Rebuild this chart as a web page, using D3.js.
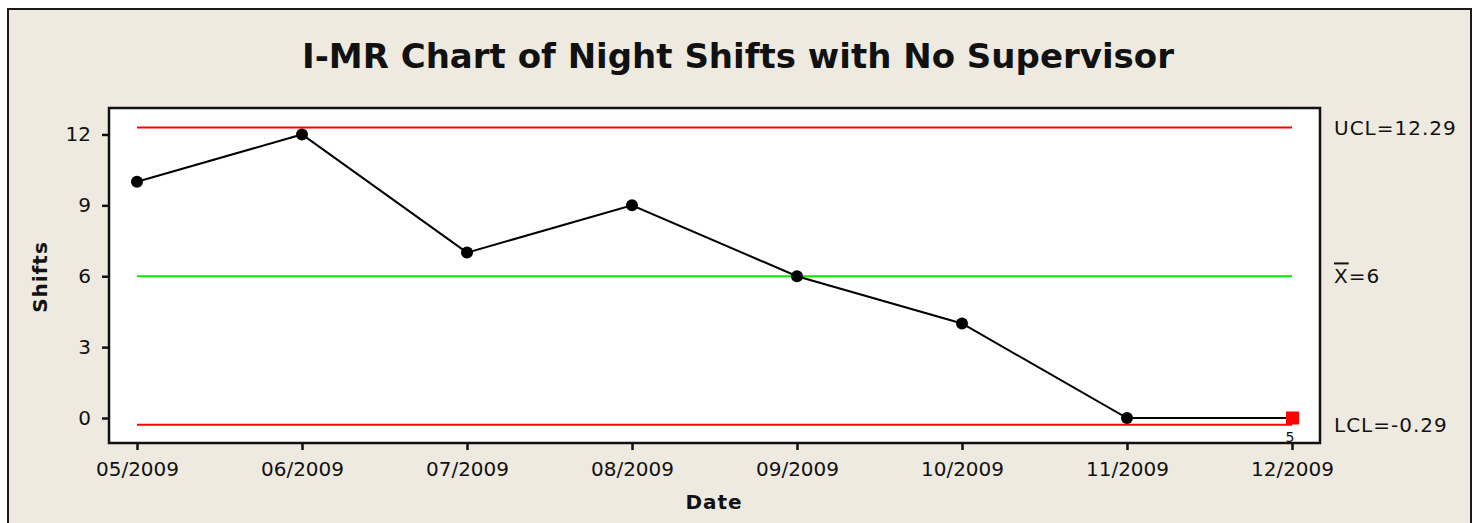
<!DOCTYPE html>
<html>
<head>
<meta charset="utf-8">
<script src="https://cdn.jsdelivr.net/npm/d3@7"></script>
<style>
  body { margin: 0; background: #fff; }
  svg { display: block; font-family: "DejaVu Sans", sans-serif; }
</style>
</head>
<body>
<div id="chart"></div>
<script>
// data
const dates = ["05/2009", "06/2009", "07/2009", "08/2009", "09/2009", "10/2009", "11/2009", "12/2009"];
const shifts = [10, 12, 7, 9, 6, 4, 0, 0];
const flagged = [false, false, false, false, false, false, false, true];
const flagLabels = ["", "", "", "", "", "", "", "5"];
const yTicks = [0, 3, 6, 9, 12];
const ucl = 12.29, mean = 6, lcl = -0.29;
const limitLabels = ["UCL=12.29", "=6", "LCL=-0.29"];

const width = 1476, height = 523;
const plot = { left: 109, top: 108, right: 1320, bottom: 443 };

const svg = d3.select("#chart").append("svg")
    .attr("width", width)
    .attr("height", height);

// panneau de fond
svg.append("rect")
    .attr("x", 8).attr("y", 9)
    .attr("width", 1463).attr("height", 530)
    .attr("fill", "#eeeae0")
    .attr("stroke", "#1a1a1a")
    .attr("stroke-width", 2);

svg.append("text")
    .attr("x", 738).attr("y", 68)
    .attr("text-anchor", "middle")
    .attr("font-weight", "bold")
    .attr("font-size", 34)
    .attr("fill", "#111")
    .text("I-MR Chart of Night Shifts with No Supervisor");

const x = d3.scalePoint()
    .domain(dates)
    .range([plot.left + 28, plot.right - 28]);

const y = d3.scaleLinear()
    .domain([-1.058, 13.12])
    .range([plot.bottom, plot.top]);

svg.append("rect")
    .attr("x", plot.left).attr("y", plot.top)
    .attr("width", plot.right - plot.left)
    .attr("height", plot.bottom - plot.top)
    .attr("fill", "#fff")
    .attr("stroke", "#111")
    .attr("stroke-width", 2.5);

// axes
const yAxis = svg.append("g")
    .attr("transform", `translate(${plot.left},0)`)
    .call(d3.axisLeft(y).tickValues(yTicks).tickSize(7).tickPadding(11));
const xAxis = svg.append("g")
    .attr("transform", `translate(0,${plot.bottom})`)
    .call(d3.axisBottom(x).tickSize(7).tickPadding(12));

[yAxis, xAxis].forEach((g) => {
    g.select(".domain").remove();
    g.selectAll(".tick line").attr("stroke", "#111").attr("stroke-width", 2.5);
    g.selectAll(".tick text")
        .attr("fill", "#111")
        .attr("font-size", 20)
        .attr("font-family", "DejaVu Sans, sans-serif");
});

svg.append("text")
    .attr("transform", "translate(47,277) rotate(-90)")
    .attr("text-anchor", "middle")
    .attr("font-weight", "bold")
    .attr("font-size", 20)
    .attr("letter-spacing", 1)
    .attr("fill", "#111")
    .text("Shifts");

svg.append("text")
    .attr("x", 714).attr("y", 509)
    .attr("text-anchor", "middle")
    .attr("font-weight", "bold")
    .attr("font-size", 20)
    .attr("letter-spacing", 1)
    .attr("fill", "#111")
    .text("Date");

// limites de contrôle
const x0 = x(dates[0]), x1 = x(dates[dates.length - 1]);
const limits = [
    { v: ucl, color: "#ff0000" },
    { v: mean, color: "#00ee00" },
    { v: lcl, color: "#ff0000" },
];
svg.append("g")
    .selectAll("line")
    .data(limits)
    .join("line")
    .attr("x1", x0).attr("x2", x1)
    .attr("y1", (d) => y(d.v)).attr("y2", (d) => y(d.v))
    .attr("stroke", (d) => d.color)
    .attr("stroke-width", 2);

const labels = svg.append("g")
    .selectAll("text")
    .data(limits)
    .join("text")
    .attr("x", 1334)
    .attr("y", (d) => y(d.v))
    .attr("dy", "0.36em")
    .attr("font-size", 20)
    .attr("fill", "#111")
    .attr("letter-spacing", 1)
    .text((d, i) => limitLabels[i]);

// X barre
labels.filter((d, i) => i == 1)
    .text(null)
    .call((t) => {
        t.append("tspan").attr("text-decoration", "overline").text("X");
        t.append("tspan").text(limitLabels[1]);
    });

const pts = dates.map((d, i) => ({ date: d, v: shifts[i], flag: flagged[i], lab: flagLabels[i] }));

svg.append("path")
    .datum(pts)
    .attr("fill", "none")
    .attr("stroke", "#000")
    .attr("stroke-width", 2)
    .attr("d", d3.line().x((d) => x(d.date)).y((d) => y(d.v)));

svg.append("g")
    .selectAll("circle")
    .data(pts.filter((d) => !d.flag))
    .join("circle")
    .attr("cx", (d) => x(d.date))
    .attr("cy", (d) => y(d.v))
    .attr("r", 6)
    .attr("fill", "#000");

const bad = pts.filter((d) => d.flag);
svg.append("g")
    .selectAll("rect")
    .data(bad)
    .join("rect")
    .attr("x", (d) => x(d.date) - 6)
    .attr("y", (d) => y(d.v) - 6.5)
    .attr("width", 13).attr("height", 13)
    .attr("fill", "#ff0000");

svg.append("g")
    .selectAll("text")
    .data(bad)
    .join("text")
    .attr("x", (d) => x(d.date) - 2)
    .attr("y", (d) => y(d.v) + 24)
    .attr("text-anchor", "middle")
    .attr("font-size", 14)
    .attr("fill", "#111")
    .text((d) => d.lab);
</script>
</body>
</html>
